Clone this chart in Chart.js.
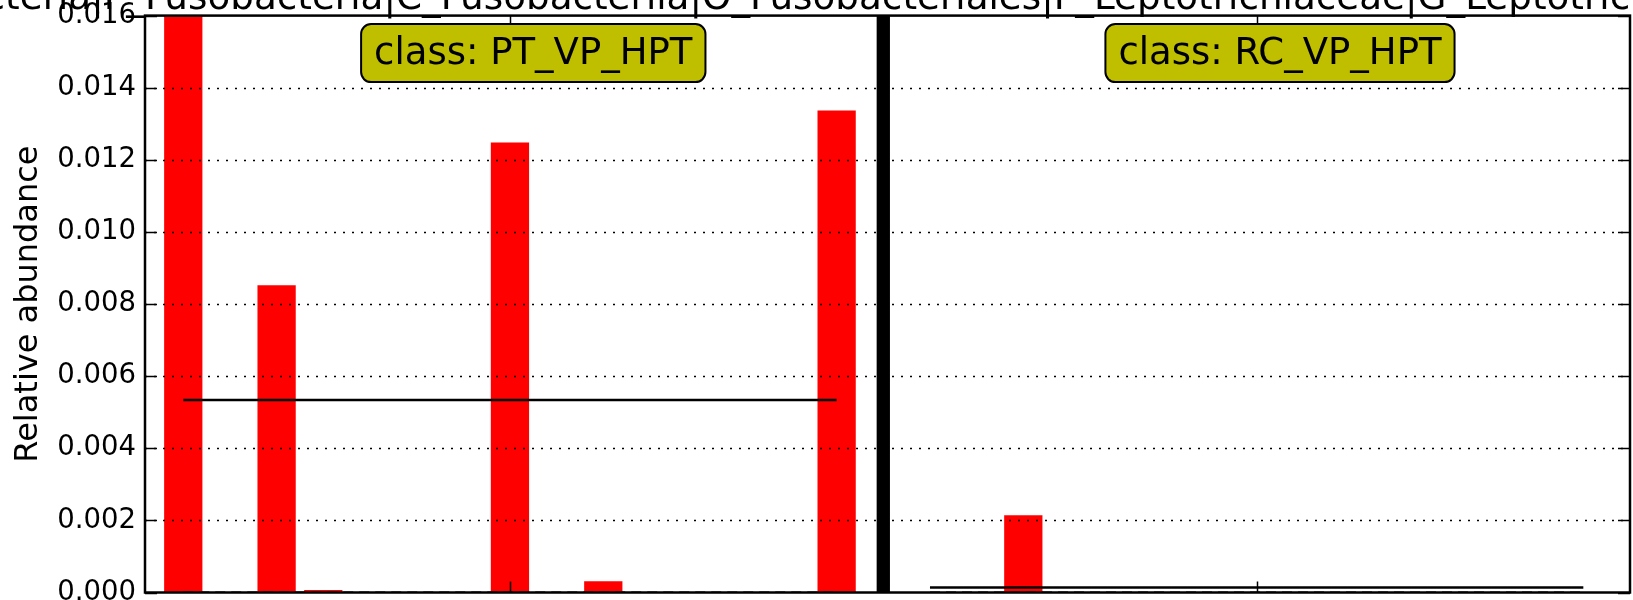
<!DOCTYPE html>
<html>
<head>
<meta charset="utf-8">
<script src="https://cdn.jsdelivr.net/npm/chart.js@4.4.0/dist/chart.umd.min.js"></script>
<style>
  html, body { margin: 0; padding: 0; background: #fff; }
  #wrap { width: 1633px; height: 600px; }
</style>
</head>
<body>
<div id="wrap"><canvas id="chart"></canvas></div>
<script>
const featureName = "Bacteria|P_Fusobacteria|C_Fusobacteriia|O_Fusobacteriales|F_Leptotrichiaceae|G_Leptotrichia";
const classNames = ["PT_VP_HPT", "RC_VP_HPT"];

// relative abundance of each sample (first PT bar runs off the top)
const ptValues = [0.0454, 0, 0.00852, 0.00007, 0, 0, 0, 0.01248, 0, 0.00031, 0, 0, 0, 0, 0.01337];
const rcValues = [0, 0, 0.00214, 0, 0, 0, 0, 0, 0, 0, 0, 0, 0, 0, 0];

// per class mean (solid line) and median (dashed line)
const classMeans = [0.00534, 0.000142];
const classMedians = [0, 0];

const yTicks = [0, 0.002, 0.004, 0.006, 0.008, 0.010, 0.012, 0.014, 0.016];
const yMax = 0.016;

const font = "DejaVu Sans";
Chart.defaults.font.family = font;
Chart.defaults.color = "#000";

// x layout: PT samples, one slot for the separator, then RC samples
const sepX = ptValues.length;
const rcStart = sepX + 1;
const ptLast = ptValues.length - 1;
const rcLast = rcStart + rcValues.length - 1;
const classCenters = [ptLast / 2, (rcStart + rcLast) / 2];

const barData = ptValues.map((v, i) => ({ x: i, y: v }))
  .concat(rcValues.map((v, i) => ({ x: rcStart + i, y: v })));

function flatLine(x0, x1, y) {
  return [{ x: x0, y: y }, { x: x1, y: y }];
}

const decorations = {
  id: "decorations",
  afterDatasetsDraw(chart) {
    const ctx = chart.ctx;
    const area = chart.chartArea;
    const xs = chart.scales.x;
    const ys = chart.scales.y;
    ctx.save();

    // dotted grid over the bars
    ctx.strokeStyle = "#000";
    ctx.lineWidth = 1.5;
    ctx.setLineDash([2, 7]);
    yTicks.forEach(v => {
      if (v === 0 || v === yMax) return;
      const y = Math.round(ys.getPixelForValue(v)) + 0.5;
      ctx.beginPath();
      ctx.moveTo(area.left, y);
      ctx.lineTo(area.right, y);
      ctx.stroke();
    });
    ctx.setLineDash([]);

    // inward ticks
    ctx.lineWidth = 1.5;
    yTicks.forEach(v => {
      const y = Math.round(ys.getPixelForValue(v)) + 0.5;
      ctx.beginPath();
      ctx.moveTo(area.left, y);
      ctx.lineTo(area.left + 12, y);
      ctx.moveTo(area.right, y);
      ctx.lineTo(area.right - 12, y);
      ctx.stroke();
    });
    classCenters.forEach(c => {
      const x = Math.round(xs.getPixelForValue(c)) + 0.5;
      ctx.beginPath();
      ctx.moveTo(x, area.bottom);
      ctx.lineTo(x, area.bottom - 11);
      ctx.moveTo(x, area.top);
      ctx.lineTo(x, area.top + 11);
      ctx.stroke();
    });

    // frame
    ctx.lineWidth = 2.5;
    ctx.strokeRect(area.left, area.top, area.right - area.left, area.bottom - area.top);

    // class labels
    ctx.font = "37px '" + font + "'";
    ctx.textAlign = "center";
    ctx.textBaseline = "middle";
    classNames.forEach((name, i) => {
      const label = "class: " + name;
      const w = ctx.measureText(label).width + 26;
      const h = 58;
      const cx = xs.getPixelForValue(classCenters[i] + 0.5);
      const top = area.top + 8.5;
      ctx.beginPath();
      ctx.roundRect(cx - w / 2, top, w, h, 10);
      ctx.fillStyle = "#bfbf00";
      ctx.fill();
      ctx.lineWidth = 2;
      ctx.strokeStyle = "#000";
      ctx.stroke();
      ctx.fillStyle = "#000";
      ctx.fillText(label, cx, top + h / 2 + 1);
    });

    // feature name, cut off by the canvas edges
    ctx.font = "37.3px '" + font + "'";
    ctx.textAlign = "left";
    ctx.textBaseline = "alphabetic";
    const lead = ctx.measureText("Bacteria|P_Fusobacteria|C").width;
    ctx.fillText(featureName, 422 - lead, 9);
    ctx.restore();
  }
};

new Chart(document.getElementById("chart"), {
  type: "bar",
  data: {
    datasets: [
      {
        type: "line",
        data: flatLine(0, ptLast, classMeans[0]),
        borderColor: "#000", borderWidth: 2.5, pointRadius: 0, order: 0
      },
      {
        type: "line",
        data: flatLine(rcStart, rcLast, classMeans[1]),
        borderColor: "#000", borderWidth: 2.5, pointRadius: 0, order: 0
      },
      {
        type: "line",
        data: flatLine(0, ptLast, classMedians[0]),
        borderColor: "#000", borderWidth: 2, borderDash: [10, 6], pointRadius: 0, order: 0
      },
      {
        type: "line",
        data: flatLine(rcStart, rcLast, classMedians[1]),
        borderColor: "#000", borderWidth: 2, borderDash: [10, 6], pointRadius: 0, order: 0
      },
      {
        data: barData,
        backgroundColor: "#ff0000",
        barPercentage: 0.82, categoryPercentage: 1, grouped: false, order: 1
      },
      {
        data: [{ x: sepX, y: yMax }],
        backgroundColor: "#000",
        barPercentage: 0.285, categoryPercentage: 1, grouped: false, order: 1
      }
    ]
  },
  options: {
    responsive: true,
    maintainAspectRatio: false,
    animation: false,
    devicePixelRatio: 1,
    layout: { padding: { left: 0, right: 3, top: 15.6, bottom: 7.5 } },
    plugins: { legend: { display: false }, tooltip: { enabled: false } },
    scales: {
      x: {
        type: "linear",
        offset: false,
        min: -0.82,
        max: rcLast + 1,
        display: false,
        afterBuildTicks: s => { s.ticks = classCenters.map(v => ({ value: v })); }
      },
      y: {
        min: 0,
        max: yMax,
        afterBuildTicks: s => { s.ticks = yTicks.map(v => ({ value: v })); },
        afterFit: s => { s.width = 145; s.paddingTop = 0; s.paddingBottom = 0; },
        ticks: {
          font: { size: 27.5 },
          padding: 9,
          callback: v => v.toFixed(3)
        },
        grid: { display: false, drawTicks: false },
        border: { display: false },
        title: {
          display: true,
          text: "Relative abundance",
          font: { size: 32 },
          padding: { top: 9.8, bottom: 4 }
        }
      }
    }
  },
  plugins: [decorations]
});
</script>
</body>
</html>
